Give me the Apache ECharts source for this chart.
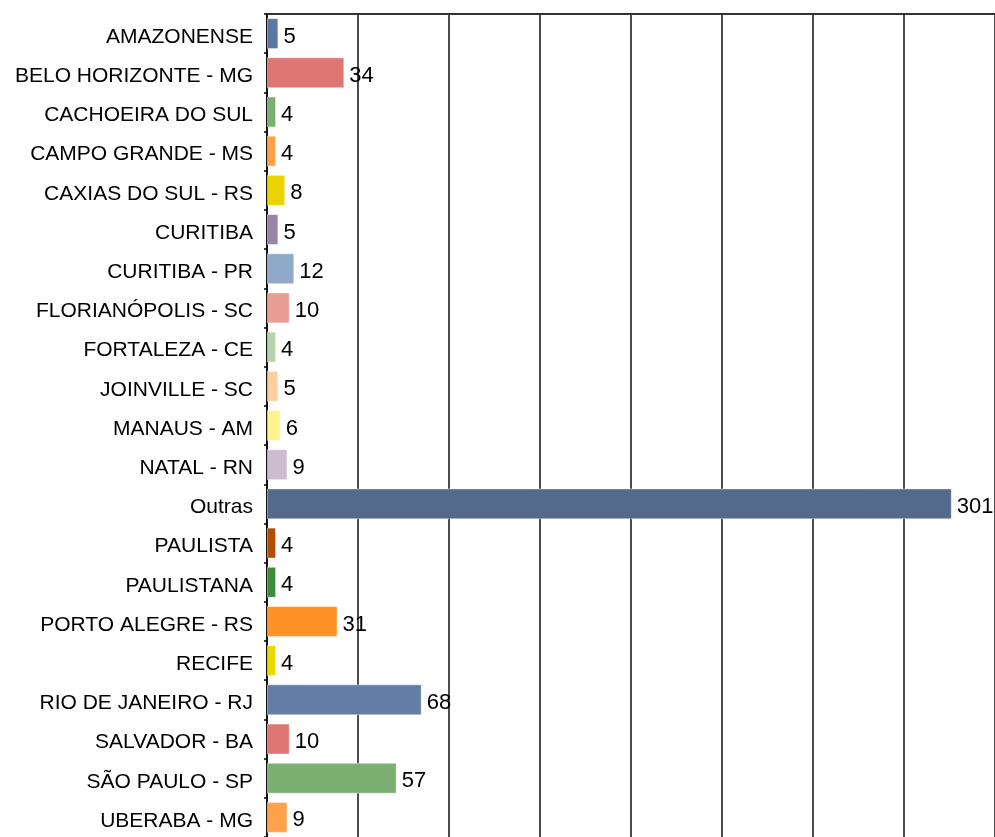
<!DOCTYPE html>
<html>
<head>
<meta charset="utf-8">
<script src="https://cdn.jsdelivr.net/npm/echarts@6/dist/echarts.min.js"></script>
<style>
html, body { margin: 0; padding: 0; background: #fff; }
#chart { width: 995px; height: 837px; }
</style>
</head>
<body>
<div id="chart"></div>
<script>
// categories (top to bottom)
var cidades = [
    "AMAZONENSE", "BELO HORIZONTE - MG", "CACHOEIRA DO SUL", "CAMPO GRANDE - MS",
    "CAXIAS DO SUL - RS", "CURITIBA", "CURITIBA - PR", "FLORIANÓPOLIS - SC",
    "FORTALEZA - CE", "JOINVILLE - SC", "MANAUS - AM", "NATAL - RN", "Outras",
    "PAULISTA", "PAULISTANA", "PORTO ALEGRE - RS", "RECIFE", "RIO DE JANEIRO - RJ",
    "SALVADOR - BA", "SÃO PAULO - SP", "UBERABA - MG"
];
var totais = [5, 34, 4, 4, 8, 5, 12, 10, 4, 5, 6, 9, 301, 4, 4, 31, 4, 68, 10, 57, 9];
var cores = [
    "#5b78a5", "#de7773", "#7ab06f", "#ffa04a", "#ead400", "#9984a3", "#91a9c9",
    "#e99e95", "#b6d4aa", "#ffcda0", "#fff38e", "#cdbcd0", "#536a8c", "#b04f00",
    "#3f8a3c", "#ff9226", "#e6da00", "#637da6", "#de7673", "#7bb072", "#ffa24a"
];

var chart = echarts.init(document.getElementById("chart"));
chart.setOption({
    animation: false,
    grid: {
        left: 267,
        top: 14,
        width: 728,
        height: 830
    },
    xAxis: {
        type: "value",
        position: "top",
        min: 0,
        max: 320,
        interval: 40,
        axisLine: { show: true, lineStyle: { color: "#333", width: 2 } },
        axisTick: { show: false },
        axisLabel: { show: false },
        splitLine: { show: true, lineStyle: { color: "#111", width: 1.5 } }
    },
    yAxis: {
        type: "category",
        inverse: true,
        data: cidades,
        axisLine: { show: true, lineStyle: { color: "#000", width: 1.5 } },
        axisTick: { show: true, length: 3, lineStyle: { color: "#000", width: 1.5 } },
        axisLabel: {
            margin: 14,
            color: "#000",
            fontFamily: "Liberation Sans",
            fontSize: 21,
            formatter: "{t|{value}}",
            rich: {
                t: {
                    color: "#000",
                    fontFamily: "Liberation Sans",
                    fontSize: 21,
                    padding: [7, 0, 0, 0]
                }
            }
        }
    },
    series: [
        {
            type: "bar",
            data: totais.map(function (v, i) {
                return { value: v, itemStyle: { color: cores[i] } };
            }),
            barCategoryGap: "21%",
            itemStyle: {
                borderColor: "rgba(255,255,255,0.45)",
                borderWidth: 1
            },
            label: {
                show: true,
                position: "right",
                distance: 5,
                offset: [0, 3],
                color: "#000",
                fontFamily: "Liberation Sans",
                fontSize: 22
            }
        }
    ]
});
</script>
</body>
</html>
